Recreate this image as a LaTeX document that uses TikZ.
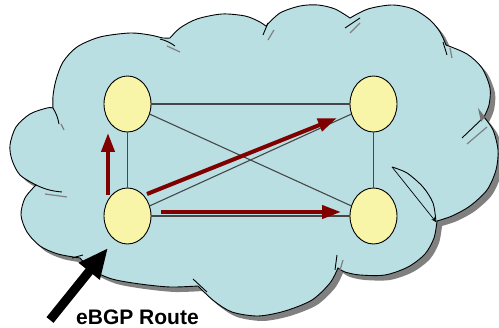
\documentclass[tikz,border=0pt]{standalone}
\usepackage{fontspec}
\setmainfont{Liberation Sans}
\usetikzlibrary{shapes.geometric,arrows.meta}
\definecolor{cloudfill}{RGB}{185,223,227}
\definecolor{nodefill}{RGB}{248,245,168}
\definecolor{arrred}{RGB}{128,0,0}
\newcommand\mycloud[1]{\path[#1]
 plot[smooth] coordinates {(53,108) (53,96) (56,80) (63,62) (77,47) (100,37) (130,33) (150,35) (163,38) (170,38)}
 -- plot[smooth] coordinates {(170,38) (180,28) (197,19) (222,14) (245,16) (258,21) (266,26)}
 -- plot[smooth] coordinates {(266,26) (280,13) (300,6) (318,5) (335,9) (350,18)}
 -- plot[smooth] coordinates {(350,18) (368,9) (392,5) (413,9) (430,20) (440,32) (446,45)}
 -- plot[smooth] coordinates {(446,45) (467,54) (482,68) (490,88) (489,105) (484,117)}
 -- plot[smooth] coordinates {(484,117) (493,130) (498,150) (496,170) (487,190) (470,206) (452,216) (437,221)}
 -- plot[smooth] coordinates {(437,221) (434,238) (425,254) (408,267) (385,275) (360,275) (345,272) (338,268)}
 -- plot[smooth] coordinates {(338,268) (330,283) (312,300) (285,311) (258,316) (232,312) (214,301) (198,286)}
 -- plot[smooth] coordinates {(198,286) (170,287) (140,284) (112,279) (92,270) (80,258)}
 -- plot[smooth] coordinates {(80,258) (58,254) (40,246) (27,232) (21,215) (25,198) (36,185)}
 -- plot[smooth] coordinates {(36,185) (20,175) (12,160) (10,145) (16,127) (30,114) (47,108) (53,108)}
 -- cycle;}
\begin{document}
\begin{tikzpicture}[x=1pt,y=-1pt,
  router/.style={ellipse,draw=black,line width=0.9pt,fill=nodefill,minimum width=47pt,minimum height=56pt,inner sep=0pt},
  link/.style={draw=black!72,line width=1.1pt},
  ibgp/.style={draw=arrred,line width=4pt,-{Triangle[length=19pt,width=13pt]}},
  ebgp/.style={draw=black,line width=9pt,-{Triangle[length=30pt,width=25pt]}},
  crack/.style={draw=black,line width=0.9pt},
  crackshade/.style={draw=gray,line width=1.2pt},
  lbltext/.style={font=\bfseries\fontsize{21}{25}\selectfont,inner sep=0pt},
]
\useasboundingbox (0,0) rectangle (499,328);
% cloud
\mycloud{fill=black!50,shift={(5,5)}}
\mycloud{fill=cloudfill,draw=black,line width=0.9pt}
% folds of the cloud
\draw[crack] (160,39) to[bend left=10] (175,46);
\draw[crackshade] (167,46) -- (180,52);
\draw[crack] (53,108) to[bend left=10] (59,124);
\draw[crackshade] (61,124) -- (64,130);
\draw[crack] (36,185) to[bend right=10] (62,192);
\draw[crackshade] (45,194) -- (67,197);
\draw[crack] (72,258) -- (83,255);
\draw[crack] (193,279) -- (207,292);
\draw[crack] (337,255) -- (335,270);
\draw[crackshade] (343,260) -- (340,270);
\draw[crack] plot[smooth] coordinates {(392,167) (407,173) (423,187) (433,203) (436,222)};
\draw[draw=black,line width=0.7pt,-{Stealth[length=5pt,width=4pt]}] (392,167) -- (436,222);
\draw[crack] (462,138) -- (484,117);
\draw[crackshade] (467,144) -- (487,127);
\fill[black!55] (478,108) -- (485,117) -- (481,122) -- cycle;
\draw[crack] (443,42) -- (447,55);
\draw[crackshade] (450,48) -- (452,58);
\draw[crack] (268,23) -- (263,35);
\draw[crackshade] (268,40) -- (274,30);
\draw[crack] (345,28) -- (360,18);
\draw[crackshade] (350,33) -- (360,23);
% routers
\node[router] (tl) at (127.5,104) {};
\node[router] (tr) at (373.5,104) {};
\node[router] (bl) at (127.5,216) {};
\node[router] (br) at (373.5,216) {};
% links
\draw[link] (tl) -- (tr);
\draw[link] (tl) -- (bl);
\draw[link] (tr) -- (br);
\draw[link] (bl) -- (br);
\draw[link] (tl) -- (br);
\draw[link] (bl) -- (tr);
% iBGP propagation arrows
\coordinate (r1s) at (108,195);
\coordinate (r1e) at (108,133);
\coordinate (r2s) at (147,194);
\coordinate (r2e) at (337,118);
\coordinate (r3s) at (161,212);
\coordinate (r3e) at (341,212);
\draw[ibgp] (r1s) -- (r1e);
\draw[ibgp] (r2s) -- (r2e);
\draw[ibgp] (r3s) -- (r3e);
% eBGP arrow and label
\coordinate (ebs) at (50,320);
\coordinate (ebe) at (108,248);
\draw[ebgp] (ebs) -- (ebe);
\node[lbltext,anchor=base west] (lbl) at (76,325) {eBGP Route};
\end{tikzpicture}
\end{document}
